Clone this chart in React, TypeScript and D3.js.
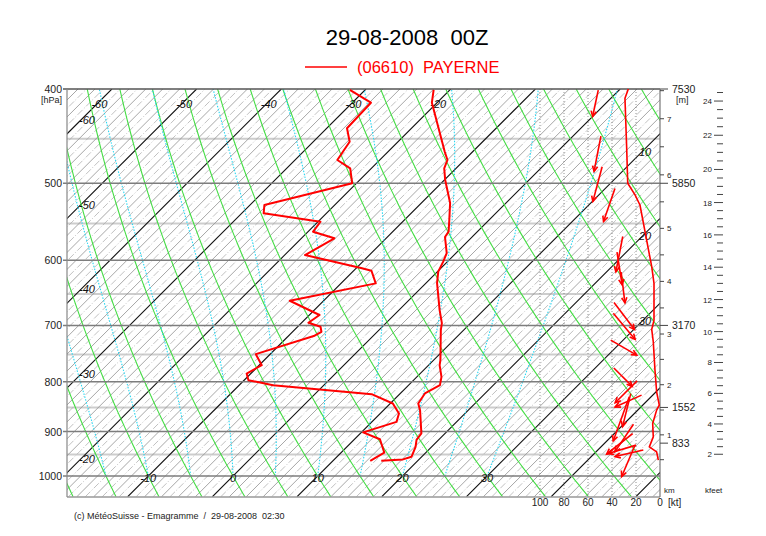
import React from 'react';
import * as d3 from 'd3';

// ---------- data ----------
const titleText = '29-08-2008  00Z';
const stationText = '(06610)  PAYERNE';
const footerText = '(c) MétéoSuisse - Emagramme  /  29-08-2008  02:30';

const majorPressures = [400, 500, 600, 700, 800, 900, 1000];
const minorPressures = [450, 550, 650, 750, 850, 950];

const topRowLabels = [-60, -50, -40, -30, -20];
const leftColLabels = [-60, -50, -40, -30, -20];
const bottomRowLabels = [-10, 0, 10, 20, 30];
const rightColLabels = [10, 20, 30];

const dryAdiabats = d3.range(-20, 95, 5);
const moistAdiabats = [-15, -10, -5, 0, 5, 10, 15, 20, 25, 30];

const ktTicks = [100, 80, 60, 40, 20, 0];

const stdLevelP = [925, 850, 700, 500, 400];
const stdLevelZ = [833, 1552, 3170, 5850, 7530];

const tempP = [400.9, 413.2, 464.0, 473.2, 482.6, 496.2, 524.0, 545.4, 560.7, 567.8, 589.8, 601.9, 616.4, 633.2, 675.1, 696.2, 707.8, 760.0, 769.1, 790.7, 806.4, 822.4, 842.1, 855.5, 903.9, 918.0, 933.1, 955.4, 961.3, 964.5];
const tempC = [-21.9, -20.6, -13.3, -12.0, -11.4, -9.9, -6.6, -4.7, -3.4, -3.2, -1.1, -0.5, 0.1, 1.3, 4.8, 6.6, 7.3, 10.8, 11.3, 12.9, 13.7, 12.9, 13.3, 14.3, 17.2, 17.4, 18.1, 18.8, 18.1, 15.7];

const dewP = [400.9, 413.2, 439.0, 453.2, 473.2, 482.6, 500.0, 526.4, 536.9, 547.7, 560.7, 569.6, 592.6, 611.5, 615.0, 633.7, 660.3, 683.0, 695.6, 702.2, 710.6, 717.8, 749.3, 769.1, 784.4, 796.9, 806.4, 823.8, 842.1, 862.2, 879.5, 901.7, 916.5, 946.1, 964.5];
const dewC = [-31.8, -27.8, -27.6, -25.7, -25.0, -22.5, -20.5, -28.3, -27.4, -19.7, -19.4, -16.1, -17.6, -9.3, -7.9, -5.9, -14.0, -8.8, -9.2, -7.3, -6.6, -7.0, -11.7, -9.7, -10.5, -9.5, -6.0, 6.7, 10.3, 12.2, 12.9, 10.2, 13.0, 15.1, 14.4];

const speedP = [400, 408.9, 458.5, 500.0, 514.0, 526.4, 609.2, 633.7, 691.2, 706.6, 727.6, 778.0, 819.1, 845.3, 855.4, 882.8, 911.3, 933.1, 944.2, 962.9];
const speedKt = [26.4, 29.2, 27.8, 26.9, 20.8, 16.7, 6.9, 5.0, 5.0, 6.9, 5.6, 4.2, 2.8, 0.6, 2.8, 6.1, 5.6, 8.9, 2.8, 1.4];

const windP = [413.8, 466.3, 501.1, 526.4, 591.4, 611.8, 640.0, 684.6, 701.6, 737.7, 791.2, 819.1, 837.2, 855.5, 873.3, 913.7, 926.5, 938.7, 947.4, 964.7];
const windPos = [53.8, 52.1, 52.1, 42.3, 33.9, 33.7, 30.8, 29.8, 29.8, 30.2, 30.8, 28.2, 26.4, 27.8, 32.3, 29.8, 33.6, 31.5, 25.7, 26.4];
const windDir = [12, 11, 15, 19, 11, 351, 353, 323, 320, 300, 315, 45, 66, 14, 20, 34, 52, 73, 77, 23];
const windLen = [27, 36, 36, 35, 36, 33, 31, 34, 34, 30, 26, 31, 29, 34, 47, 33, 33, 29, 29, 34];

// ---------- geometry ----------
const W = 766, H = 536;
const L = 67, R = 660, T0 = 89, B = 497;
const FONT = '"Liberation Sans", Arial, Helvetica, sans-serif';

const yScale = d3.scaleLog().domain([400, 1050]).range([89, 496.7]);
const xT = d3.scaleLinear().domain([0, 30]).range([233, 487.1]);
const y1000 = yScale(1000);
const skewX = (t: number, p: number) => xT(t) + (y1000 - yScale(p));
const ktScale = d3.scaleLinear().domain([0, 100]).range([660, 540]);
const zScale = d3.scaleLinear().domain(stdLevelZ).range(stdLevelP.map((p) => yScale(p)));

const line = d3.line<[number, number]>();

function satMix(p: number, T: number) {
  const tc = T - 273.15;
  const es = 6.112 * Math.exp((17.67 * tc) / (tc + 243.5));
  return (0.622 * es) / (p - es);
}
function dTdp(p: number, T: number) {
  const Rd = 287.04, Cp = 1005.7, Lv = 2.501e6, eps = 0.622;
  const rs = satMix(p, T);
  const num = (Rd * T + Lv * rs) / p;
  const den = Cp + (Lv * Lv * rs * eps) / (Rd * T * T);
  return num / den;
}
function moistPts(thw: number): [number, number][] {
  let T = thw + 273.15;
  const pts: [number, number][] = [];
  const dp = -5;
  for (let p = 1000; p >= 400; p += dp) {
    pts.push([skewX(T - 273.15, p), yScale(p)]);
    const k1 = dTdp(p, T);
    const k2 = dTdp(p + dp / 2, T + (k1 * dp) / 2);
    T += k2 * dp;
  }
  return pts;
}
function dryPts(th: number): [number, number][] {
  const pts: [number, number][] = [];
  for (let p = 1050; p >= 400; p -= 10) {
    const t = (th + 273.15) * Math.pow(p / 1000, 0.2857) - 273.15;
    pts.push([skewX(t, p), yScale(p)]);
  }
  return pts;
}

export default function App() {
  const isotherms = d3.range(-66, 54, 1);
  const kft = d3.range(2, 24.51, 0.5);
  const kmTicks = d3.range(0.5, 7.51, 0.5);

  const tempPts = tempP.map((p, i) => [skewX(tempC[i], p), yScale(p)] as [number, number]);
  const dewPts = dewP.map((p, i) => [skewX(dewC[i], p), yScale(p)] as [number, number]);
  const spdPts = speedP.map((p, i) => [ktScale(speedKt[i]), yScale(p)] as [number, number]);

  const arrows = windP.map((p, i) => {
    const cx = ktScale(windPos[i]);
    const cy = yScale(p);
    const a = ((windDir[i] + 180) * Math.PI) / 180;
    const ux = Math.sin(a), uy = -Math.cos(a);
    const h = windLen[i] / 2;
    const tx = cx - ux * h, ty = cy - uy * h;
    const hx = cx + ux * h, hy = cy + uy * h;
    const back = Math.atan2(-uy, -ux);
    const hl = 6, ha = 0.45;
    const h1: [number, number] = [hx + hl * Math.cos(back + ha), hy + hl * Math.sin(back + ha)];
    const h2: [number, number] = [hx + hl * Math.cos(back - ha), hy + hl * Math.sin(back - ha)];
    return { tx, ty, hx, hy, h1, h2 };
  });

  return (
    <svg width={W} height={H} style={{ position: 'absolute', left: 0, top: 0, background: '#fff' }} fontFamily={FONT}>
      <defs>
        <clipPath id="plotClip">
          <rect x={L} y={T0} width={R - L} height={B - T0} />
        </clipPath>
      </defs>
      <rect x={0} y={0} width={W} height={H} fill="#fff" />

      {/* title */}
      <text x={407} y={45} textAnchor="middle" fontSize={22} fill="#000" style={{ whiteSpace: 'pre' }}>{titleText}</text>
      <line x1={305} x2={347} y1={67} y2={67} stroke="#ff0000" strokeWidth={1.5} />
      <text x={357} y={73} fontSize={16.5} fill="#ff0000" style={{ whiteSpace: 'pre' }}>{stationText}</text>

      <g clipPath="url(#plotClip)">
        {minorPressures.map((p) => (
          <line key={'mp' + p} x1={L} x2={R} y1={yScale(p)} y2={yScale(p)} stroke="#cdcdcd" strokeWidth={2} />
        ))}
        {isotherms.map((t) => {
          const x1 = skewX(t, 1050), x2 = skewX(t, 400);
          const major = t % 10 === 0;
          const even = t % 2 === 0;
          return (
            <line key={'it' + t} x1={x1} y1={yScale(1050)} x2={x2} y2={yScale(400)}
              stroke={major ? '#111' : even ? '#8f8f8f' : '#a6a6a6'}
              strokeWidth={major ? 1.1 : even ? 0.8 : 0.7}
              strokeDasharray={major || even ? undefined : '7,2,1,2'} />
          );
        })}
        {dryAdiabats.map((th) => (
          <path key={'da' + th} d={line(dryPts(th)) || ''} fill="none" stroke="#44dd44" strokeWidth={1.1} />
        ))}
        {moistAdiabats.map((th) => (
          <path key={'ma' + th} d={line(moistPts(th)) || ''} fill="none" stroke="#2ad8f2" strokeWidth={1.1} strokeDasharray="1.5,1.5" />
        ))}
        {ktTicks.filter((k) => k > 0).map((k) => (
          <line key={'kt' + k} x1={ktScale(k)} x2={ktScale(k)} y1={T0} y2={B} stroke="#777" strokeWidth={0.8} strokeDasharray="1,2" />
        ))}
      </g>

      {/* major isobars */}
      {majorPressures.map((p) => (
        <line key={'MP' + p} x1={63} x2={R} y1={yScale(p)} y2={yScale(p)} stroke={p === 400 ? '#555' : '#7d7d7d'} strokeWidth={1.5} />
      ))}
      <line x1={L} x2={R} y1={B} y2={B} stroke="#999" strokeWidth={1.5} />
      <line x1={L} x2={L} y1={T0} y2={B} stroke="#888" strokeWidth={1.2} />
      <line x1={R} x2={R} y1={T0} y2={B} stroke="#777" strokeWidth={1.2} />

      {/* pressure labels */}
      {majorPressures.map((p) => (
        <text key={'pl' + p} x={62} y={yScale(p) + 4} textAnchor="end" fontSize={10.5} fill="#222">{p}</text>
      ))}
      <text x={62} y={103} textAnchor="end" fontSize={9} fill="#222">[hPa]</text>

      {/* isotherm labels */}
      <g fontStyle="italic" fontSize={11} fill="#111" textAnchor="middle">
        {topRowLabels.map((t) => (
          <text key={'tr' + t} x={skewX(t, 400) - 12.5} y={108}>{t}</text>
        ))}
        {leftColLabels.map((t) => (
          <text key={'lc' + t} x={87} y={xT(t) + y1000 - 87 + 10}>{t}</text>
        ))}
        {bottomRowLabels.map((t) => (
          <text key={'br' + t} x={xT(t)} y={482}>{t}</text>
        ))}
        {rightColLabels.map((t) => (
          <text key={'rc' + t} x={645} y={xT(t) + y1000 - 645 + 7}>{t}</text>
        ))}
      </g>

      {/* profiles */}
      <path d={line(tempPts) || ''} fill="none" stroke="#ff0000" strokeWidth={2} strokeLinejoin="round" />
      <path d={line(dewPts) || ''} fill="none" stroke="#ff0000" strokeWidth={2} strokeLinejoin="round" />
      <path d={line(spdPts) || ''} fill="none" stroke="#ff0000" strokeWidth={1.6} strokeLinejoin="round" />

      {/* wind arrows */}
      {arrows.map((a, i) => (
        <g key={'wa' + i} stroke="#ff0000" strokeWidth={1.6} fill="none">
          <line x1={a.tx} y1={a.ty} x2={a.hx} y2={a.hy} />
          <path d={line([a.h1, [a.hx, a.hy], a.h2]) || ''} />
        </g>
      ))}

      {/* km axis */}
      {kmTicks.map((k) => (
        <line key={'km' + k} x1={R} x2={R + 4} y1={zScale(k * 1000)} y2={zScale(k * 1000)} stroke="#444" strokeWidth={1} />
      ))}
      {kmTicks.filter((k) => Number.isInteger(k)).map((k) => (
        <text key={'kml' + k} x={667} y={zScale(k * 1000) + 3} fontSize={8} fill="#222">{k}</text>
      ))}
      {stdLevelP.map((p, i) => (
        <g key={'sl' + p}>
          <line x1={R} x2={R + 8} y1={yScale(p)} y2={yScale(p)} stroke="#444" strokeWidth={1} />
          <text x={672} y={yScale(p) + 4} fontSize={10.5} fill="#222">{stdLevelZ[i]}</text>
        </g>
      ))}
      <text x={676} y={103} fontSize={9} fill="#222">[m]</text>
      <text x={664} y={493} fontSize={8} fill="#222">km</text>

      {/* kfeet axis */}
      {kft.map((k) => {
        const lab = Number.isInteger(k) && k % 2 === 0;
        return <line key={'kf' + k} x1={lab ? 714 : 717} x2={723} y1={zScale(k * 304.8)} y2={zScale(k * 304.8)} stroke="#444" strokeWidth={1} />;
      })}
      {kft.filter((k) => Number.isInteger(k) && k % 2 === 0).map((k) => (
        <text key={'kfl' + k} x={712} y={zScale(k * 304.8) + 3} textAnchor="end" fontSize={8} fill="#222">{k}</text>
      ))}
      <text x={705} y={493} fontSize={8} fill="#222">kfeet</text>

      {/* kt labels */}
      {ktTicks.map((k) => (
        <text key={'ktl' + k} x={ktScale(k)} y={506} textAnchor="middle" fontSize={10} fill="#222">{k}</text>
      ))}
      <text x={668} y={506} fontSize={10} fill="#222">[kt]</text>

      <text x={74} y={519} fontSize={9} fill="#222" style={{ whiteSpace: 'pre' }}>{footerText}</text>
    </svg>
  );
}
